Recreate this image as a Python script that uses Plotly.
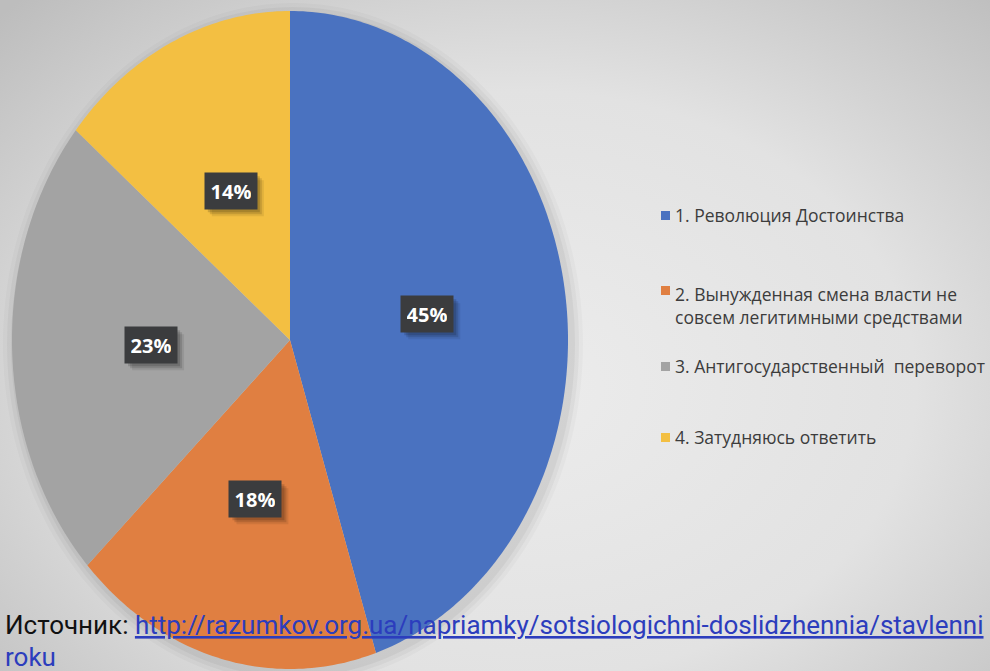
import math
import plotly.graph_objects as go

# ---- data ----
categories = [
    "1. Революция Достоинства",
    "2. Вынужденная смена власти не<br>совсем легитимными средствами",
    "3. Антигосударственный  переворот",
    "4. Затудняюсь ответить",
]
values = [45, 18, 23, 14]
labels_pct = ["45%", "18%", "23%", "14%"]
colors = ["#4a72c0", "#e07f41", "#a3a3a3", "#f3bf42"]
source_prefix = "Источник: "
source_url = "http://razumkov.org.ua/napriamky/sotsiologichni-doslidzhennia/stavlenni"
source_tail = "roku"

# ---- layout geometry (pixels) ----
W, H = 990, 671
CX, CY = 290, H - 340
RX, RY = 278, 329

fig = go.Figure()

# background radial gradient
fig.add_trace(go.Scatter(
    x=[-200, W + 250, W + 250, -200, -200], y=[-250, -250, H + 150, H + 150, -250],
    fill="toself", mode="none",
    fillgradient=dict(type="radial", colorscale=[[0, "#ececec"], [0.55, "#e2e2e2"], [1, "#bdbdbd"]]),
    hoverinfo="skip", showlegend=False,
))

# soft shadow around pie
for k, op in [(12, 0.025), (8, 0.035), (4, 0.045)]:
    t = [i / 200 * 2 * math.pi for i in range(201)]
    fig.add_trace(go.Scatter(
        x=[CX + 3 + (RX + k) * math.sin(a) for a in t],
        y=[CY - 4 + (RY + k) * math.cos(a) for a in t],
        fill="toself", mode="none", fillcolor=f"rgba(0,0,0,{op})",
        hoverinfo="skip", showlegend=False,
    ))

total = sum(values)
start = 0.0
annotations = []
shapes = []
for cat, v, lab, col in zip(categories, values, labels_pct, colors):
    a0 = start / total * 2 * math.pi
    a1 = (start + v) / total * 2 * math.pi
    n = max(4, int(v * 4))
    angs = [a0 + (a1 - a0) * i / n for i in range(n + 1)]
    xs = [CX] + [CX + RX * math.sin(a) for a in angs] + [CX]
    ys = [CY] + [CY + RY * math.cos(a) for a in angs] + [CY]
    fig.add_trace(go.Scatter(x=xs, y=ys, fill="toself", mode="none", fillcolor=col,
                             name=cat, hoverinfo="name", showlegend=False))
    am = (a0 + a1) / 2
    lx = CX + 0.5 * RX * math.sin(am)
    ly = CY + 0.5 * RY * math.cos(am)
    # label shadow (soft, offset)
    for d, op in [(7, 0.08), (5, 0.12), (3, 0.15)]:
        shapes.append(dict(type="rect", xref="x", yref="y", x0=lx - 26 + d, x1=lx + 26 + d,
                           y0=ly - 18 - d, y1=ly + 18 - d, fillcolor=f"rgba(0,0,0,{op})",
                           line_width=0, layer="above"))
    annotations.append(dict(x=lx, y=ly, xref="x", yref="y", text="<b>" + lab + "</b>", showarrow=False,
                            font=dict(family="Open Sans", size=20, color="white"),
                            bgcolor="#3b3c3e", borderpad=6, width=40, height=24))
    start += v

# legend box
shapes += [
    dict(type="rect", xref="x", yref="y", x0=653, x1=W + 5, y0=H - 495, y1=H - 191,
         fillcolor="rgba(0,0,0,0.05)", line_width=0, layer="below"),
    dict(type="rect", xref="x", yref="y", x0=649, x1=W + 5, y0=H - 491, y1=H - 194,
         fillcolor="#e7e7e7", line_width=0, layer="below"),
]
leg_y = [215, 305, 366, 437]
for cat, col, yy in zip(categories, colors, leg_y):
    sq_y = yy if "<br>" not in cat else yy - 15
    shapes.append(dict(type="rect", xref="x", yref="y", x0=661, x1=670,
                       y0=H - sq_y - 5, y1=H - sq_y + 4, fillcolor=col, line_width=0))
    annotations.append(dict(x=673, y=H - yy, xref="x", yref="y", xanchor="left", yanchor="middle",
                            align="left", text=cat, showarrow=False,
                            font=dict(family="Open Sans", size=17.5, color="#3c3c3c")))

# source text
annotations.append(dict(x=3, y=H - 625, xref="x", yref="y", xanchor="left", yanchor="middle",
                        text=source_prefix + "<span style='color:#2c3dbd'><u>" + source_url + "</u></span>",
                        showarrow=False, font=dict(family="Roboto", size=26, color="#111111")))
annotations.append(dict(x=3, y=H - 657, xref="x", yref="y", xanchor="left", yanchor="middle",
                        text=source_tail,
                        showarrow=False, font=dict(family="Roboto", size=26, color="#2c3dbd")))

fig.update_layout(
    width=W, height=H, margin=dict(l=0, r=0, t=0, b=0),
    paper_bgcolor="#e3e3e3", plot_bgcolor="rgba(0,0,0,0)",
    xaxis=dict(range=[0, W], visible=False, fixedrange=True),
    yaxis=dict(range=[0, H], visible=False, fixedrange=True),
    showlegend=False, annotations=annotations, shapes=shapes,
)
fig.write_html("out.html", config={"displayModeBar": False},
               post_script="document.body.style.margin='0';document.body.style.overflow='hidden';")
